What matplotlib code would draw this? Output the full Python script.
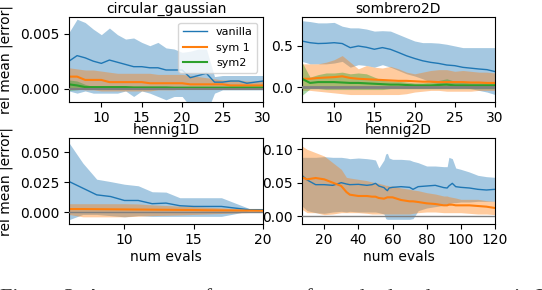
import matplotlib.pyplot as plt
import numpy as np

# circular_gaussian, x = 6..30
cg_x = list(range(6, 31))
cg_van = [0.0025, 0.0030, 0.0028, 0.0025, 0.0023, 0.0026, 0.0024, 0.0022, 0.0020, 0.0020, 0.0019, 0.0019, 0.0017,
          0.0017, 0.0017, 0.0010, 0.0012, 0.0014, 0.0006, 0.0006, 0.0007, 0.0007, 0.0005, 0.0006, 0.0007]
cg_van_hi = [0.0051, 0.0063, 0.0060, 0.0054, 0.0049, 0.0055, 0.0049, 0.0045, 0.0046, 0.0042, 0.0039, 0.0042, 0.0037,
             0.0036, 0.0033, 0.0034, 0.0036, 0.0036, 0.0011, 0.0012, 0.0012, 0.0012, 0.0012, 0.0012, 0.0012]
cg_van_lo = [-0.0002, -0.0004, -0.0002, -0.0004, -0.0004, -0.0004, -0.0004, -0.0002, -0.0007, -0.0002, -0.0004,
             -0.0007, -0.0010, -0.0007, -0.0007, -0.0016, -0.0019, -0.0022, -0.0004, -0.0001, -0.0001, -0.0001,
             -0.0001, -0.0001, -0.0001]
cg_s1 = [0.0011, 0.0011, 0.0008, 0.0008, 0.0008, 0.0006, 0.0006, 0.0006, 0.0006, 0.0006, 0.0005, 0.0005, 0.0005,
         0.0005, 0.0005, 0.0004, 0.0004, 0.0004, 0.0004, 0.0004, 0.0003, 0.0003, 0.0003, 0.0003, 0.0003]
cg_s1_hi = [0.0019, 0.0018, 0.0017, 0.0017, 0.0016, 0.0015, 0.0014, 0.0014, 0.0014, 0.0014, 0.0014, 0.0013, 0.0013,
            0.0013, 0.0013, 0.0012, 0.0011, 0.0010, 0.0009, 0.0008, 0.0008, 0.0008, 0.0007, 0.0007, 0.0007]
cg_s1_lo = [0.0001, 0.0000, -0.0001, -0.0001, -0.0002, -0.0002, -0.0002, -0.0002, -0.0002, -0.0002, -0.0002, -0.0001,
            -0.0001, -0.0001, 0.0000, 0.0000, 0.0000, 0.0000, 0.0000, 0.0000, 0.0000, 0.0000, 0.0000, 0.0000, 0.0000]
cg_s2 = [0.0004, 0.0003, 0.00015, 0.00015, 0.00015, 0.00015, 0.00015, 0.00015, 0.00012, 0.00012, 0.00012, 0.00012,
         0.00012, 0.0001, 0.0001, 0.0001, 0.0001, 0.0001, 0.0001, 0.0001, 0.0001, 0.0001, 0.0001, 0.0001, 0.0001]
cg_s2_hi = [0.0008, 0.0007, 0.0004, 0.0002, 0.0002, 0.0002, 0.0002, 0.0002, 0.0002, 0.0002, 0.0002, 0.0002, 0.0002,
            0.0002, 0.0002, 0.0002, 0.0002, 0.0002, 0.0002, 0.0002, 0.0002, 0.0002, 0.0002, 0.0002, 0.0002]
cg_s2_lo = [-0.00015, -0.0001, 0.0000, 0.0000, 0.0000, 0.0000, 0.0000, 0.0000, 0.0000, 0.0000, 0.0000, 0.0000,
            0.0000, 0.0000, 0.0000, 0.0000, 0.0000, 0.0000, 0.0000, 0.0000, 0.0000, 0.0000, 0.0000, 0.0000, 0.0000]

# sombrero2D, x = 6..30
sb_x = list(range(6, 31))
sb_van = [0.555, 0.535, 0.525, 0.528, 0.535, 0.525, 0.475, 0.495, 0.480, 0.456, 0.476, 0.455, 0.417, 0.377, 0.345,
          0.317, 0.298, 0.285, 0.266, 0.258, 0.238, 0.228, 0.218, 0.210, 0.187]
sb_van_hi = [0.80, 0.79, 0.774, 0.774, 0.78, 0.734, 0.714, 0.714, 0.70, 0.675, 0.68, 0.675, 0.635, 0.595, 0.556,
             0.536, 0.536, 0.530, 0.516, 0.496, 0.476, 0.476, 0.476, 0.476, 0.476]
sb_van_lo = [0.31, 0.28, 0.28, 0.28, 0.29, 0.31, 0.24, 0.27, 0.26, 0.24, 0.27, 0.24, 0.20, 0.16, 0.134, 0.10, 0.06,
             0.04, 0.02, 0.02, 0.00, -0.02, -0.04, -0.06, -0.09]
sb_s1 = [0.10, 0.10, 0.11, 0.115, 0.12, 0.13, 0.11, 0.10, 0.095, 0.09, 0.085, 0.08, 0.075, 0.075, 0.07, 0.065, 0.065,
         0.06, 0.06, 0.06, 0.06, 0.055, 0.055, 0.05, 0.05]
sb_s1_hi = [0.28, 0.28, 0.28, 0.30, 0.33, 0.38, 0.30, 0.22, 0.26, 0.24, 0.23, 0.25, 0.22, 0.18, 0.16, 0.18, 0.20,
            0.21, 0.21, 0.19, 0.20, 0.19, 0.18, 0.18, 0.17]
sb_s1_lo = [-0.04, -0.04, -0.05, -0.06, -0.07, -0.08, -0.09, -0.09, -0.09, -0.09, -0.09, -0.09, -0.09, -0.08, -0.06,
            -0.05, -0.04, -0.04, -0.05, -0.05, -0.05, -0.05, -0.04, -0.04, -0.04]
sb_s2 = [0.10, 0.05, 0.06, 0.06, 0.06, 0.055, 0.05, 0.05, 0.045, 0.04, 0.035, 0.03, 0.03, 0.025, 0.02, 0.02, 0.02,
         0.025, 0.03, 0.02, 0.02, 0.02, 0.02, 0.02, 0.02]
sb_s2_hi = [0.30, 0.12, 0.15, 0.17, 0.17, 0.18, 0.16, 0.17, 0.16, 0.12, 0.08, 0.075, 0.07, 0.06, 0.05, 0.05, 0.06,
            0.08, 0.10, 0.07, 0.06, 0.05, 0.05, 0.05, 0.05]
sb_s2_lo = [-0.10, -0.02, -0.02, -0.03, -0.03, -0.03, -0.03, -0.03, -0.03, -0.03, -0.03, -0.02, -0.02, -0.02, -0.02,
            -0.02, -0.02, -0.02, -0.02, -0.02, -0.02, -0.02, -0.02, -0.02, -0.02]

# hennig1D, x = 6..20
h1_x = list(range(6, 21))
h1_van = [0.0256, 0.0200, 0.0144, 0.0130, 0.0097, 0.0097, 0.0070, 0.0075, 0.0053, 0.0047, 0.0047, 0.0047, 0.0033,
          0.0020, 0.0020]
h1_van_hi = [0.058, 0.041, 0.0275, 0.0255, 0.0233, 0.022, 0.017, 0.0167, 0.012, 0.012, 0.012, 0.012, 0.0075,
             0.003, 0.0025]
h1_van_lo = [-0.0064, -0.002, -0.002, -0.003, -0.004, -0.003, -0.0036, -0.0036, -0.0036, -0.0036, -0.0036, -0.0036,
             -0.0014, 0.001, 0.001]
h1_s1 = [0.0025, 0.0025, 0.0024, 0.0023, 0.0022, 0.0021, 0.0020, 0.0019, 0.0018, 0.0017, 0.0015, 0.0014, 0.0013,
         0.0012, 0.0011]
h1_s1_hi = [0.007, 0.007, 0.007, 0.007, 0.007, 0.0068, 0.006, 0.0055, 0.005, 0.0045, 0.004, 0.0035, 0.003, 0.0025,
            0.002]
h1_s1_lo = [-0.002, -0.004, -0.004, -0.004, -0.004, -0.0035, -0.003, -0.0027, -0.0024, -0.002, -0.0016, -0.0012,
            -0.0008, -0.0004, 0.0]

# hennig2D
h2_x = [7, 10, 15, 20, 25, 30, 33, 35, 40, 45, 48, 50, 52, 55, 56, 57, 58, 60, 65, 70, 72, 75, 80, 85, 90, 92, 93,
        95, 97, 100, 105, 110, 115, 120]
h2_van = [0.061, 0.054, 0.047, 0.047, 0.046, 0.050, 0.048, 0.047, 0.0475, 0.046, 0.047, 0.049, 0.045, 0.0426, 0.040,
          0.038, 0.042, 0.043, 0.044, 0.043, 0.040, 0.044, 0.045, 0.046, 0.0426, 0.042, 0.045, 0.049, 0.044, 0.043,
          0.042, 0.040, 0.039, 0.040]
h2_van_hi = [0.088, 0.088, 0.088, 0.089, 0.088, 0.088, 0.087, 0.086, 0.087, 0.086, 0.085, 0.084, 0.072, 0.084, 0.093,
             0.094, 0.087, 0.085, 0.085, 0.084, 0.082, 0.080, 0.075, 0.075, 0.074, 0.074, 0.088, 0.086, 0.072, 0.070,
             0.066, 0.061, 0.059, 0.058]
h2_van_lo = [0.015, 0.008, 0.005, 0.004, 0.006, 0.007, 0.006, 0.007, 0.006, 0.006, 0.006, 0.006, 0.005, 0.003,
             -0.004, -0.005, -0.005, -0.005, -0.005, -0.005, -0.004, 0.008, 0.012, 0.014, 0.016, 0.016, 0.018, 0.020,
             0.020, 0.021, 0.021, 0.022, 0.022, 0.022]
h2_s1 = [0.058, 0.055, 0.057, 0.055, 0.050, 0.045, 0.036, 0.032, 0.030, 0.030, 0.029, 0.029, 0.027, 0.026, 0.027,
         0.028, 0.028, 0.028, 0.024, 0.022, 0.022, 0.021, 0.019, 0.018, 0.016, 0.016, 0.017, 0.017, 0.016, 0.016,
         0.016, 0.015, 0.014, 0.012]
h2_s1_hi = [0.105, 0.100, 0.095, 0.090, 0.080, 0.070, 0.058, 0.057, 0.055, 0.053, 0.051, 0.050, 0.049, 0.047, 0.046,
            0.046, 0.045, 0.045, 0.042, 0.040, 0.039, 0.038, 0.035, 0.033, 0.030, 0.030, 0.029, 0.028, 0.027, 0.025,
            0.025, 0.025, 0.023, 0.022]
h2_s1_lo = [0.010, 0.005, 0.005, 0.002, 0.003, 0.005, 0.005, 0.005, 0.005, 0.004, 0.003, 0.003, 0.003, 0.003, 0.003,
            0.003, 0.003, 0.003, 0.003, 0.003, 0.004, 0.005, 0.006, 0.006, 0.005, 0.005, 0.005, 0.005, 0.005, 0.005,
            0.004, 0.003, 0.003, 0.002]

W, H = 542, 290
fig = plt.figure(figsize=(W / 100, H / 100), dpi=100)
FS = 10


def panel(rect, title, x, series, xlim, ylim, yticks, xticks, zero_lw):
    ax = fig.add_axes(rect)
    for mean, lo, hi, c, lw, lab in series:
        ax.fill_between(x, lo, hi, color=c, alpha=0.4, lw=0)
        ax.plot(x, mean, color=c, lw=lw, label=lab)
    ax.axhline(0, color='gray', lw=zero_lw, zorder=3)
    ax.set_xlim(*xlim)
    ax.set_ylim(*ylim)
    ax.set_yticks(yticks)
    ax.set_xticks(xticks)
    ax.tick_params(labelsize=FS, pad=3)
    ax.set_title(title, fontsize=FS, pad=3)
    return ax


ax1 = panel([69 / W, 1 - 102 / H, 194 / W, 85 / H], 'circular_gaussian', cg_x,
            [(cg_van, cg_van_lo, cg_van_hi, 'C0', 1.0, 'vanilla'),
             (cg_s1, cg_s1_lo, cg_s1_hi, 'C1', 1.5, 'sym 1'),
             (cg_s2, cg_s2_lo, cg_s2_hi, 'C2', 1.5, 'sym2')],
            (6, 30), (-0.0012, 0.0065), [0.0, 0.005], [10, 15, 20, 25, 30], 1.5)
ax1.yaxis.set_major_formatter(plt.FormatStrFormatter('%.3f'))
ax1.set_ylabel('rel mean |error|', fontsize=FS)
ax1.yaxis.set_label_coords(-56 / 194, 0.5)
ax1.legend(loc='upper right', fontsize=8, borderaxespad=0.5, handlelength=2.2)

ax2 = panel([302 / W, 1 - 102 / H, 193 / W, 85 / H], 'sombrero2D', sb_x,
            [(sb_van, sb_van_lo, sb_van_hi, 'C0', 1.0, 'vanilla'),
             (sb_s1, sb_s1_lo, sb_s1_hi, 'C1', 1.5, 'sym 1'),
             (sb_s2, sb_s2_lo, sb_s2_hi, 'C2', 1.5, 'sym2')],
            (6, 30), (-0.18, 0.845), [0.0, 0.5], [10, 15, 20, 25, 30], 2.0)
ax2.yaxis.set_major_formatter(plt.FormatStrFormatter('%.1f'))

ax3 = panel([69 / W, 1 - 224 / H, 194 / W, 86 / H], 'hennig1D', h1_x,
            [(h1_van, h1_van_lo, h1_van_hi, 'C0', 1.0, 'vanilla'),
             (h1_s1, h1_s1_lo, h1_s1_hi, 'C1', 1.5, 'sym 1')],
            (6, 20), (-0.01, 0.062), [0.0, 0.025, 0.05], [10, 15, 20], 1.0)
ax3.yaxis.set_major_formatter(plt.FormatStrFormatter('%.3f'))
ax3.set_ylabel('rel mean |error|', fontsize=FS)
ax3.yaxis.set_label_coords(-56 / 194, 0.5)
ax3.set_xlabel('num evals', fontsize=FS, labelpad=2)

ax4 = panel([302 / W, 1 - 224 / H, 193 / W, 86 / H], 'hennig2D', h2_x,
            [(h2_van, h2_van_lo, h2_van_hi, 'C0', 1.0, 'vanilla'),
             (h2_s1, h2_s1_lo, h2_s1_hi, 'C1', 1.5, 'sym 1')],
            (7, 120), (-0.012, 0.117), [0.0, 0.05, 0.1], [20, 40, 60, 80, 100, 120], 1.0)
ax4.yaxis.set_major_formatter(plt.FormatStrFormatter('%.2f'))
ax4.set_xlabel('num evals', fontsize=FS, labelpad=2)

# caption cut off at the bottom of the crop, only the tops of the letters show
fig.text(0.0, 1 - 302.5 / H, 'Figure 2: Accuracy performance of standard and symmetric BQ',
         family='Liberation Serif', fontsize=16, color='#333333', va='baseline')

fig.savefig('out.png', dpi=100)
